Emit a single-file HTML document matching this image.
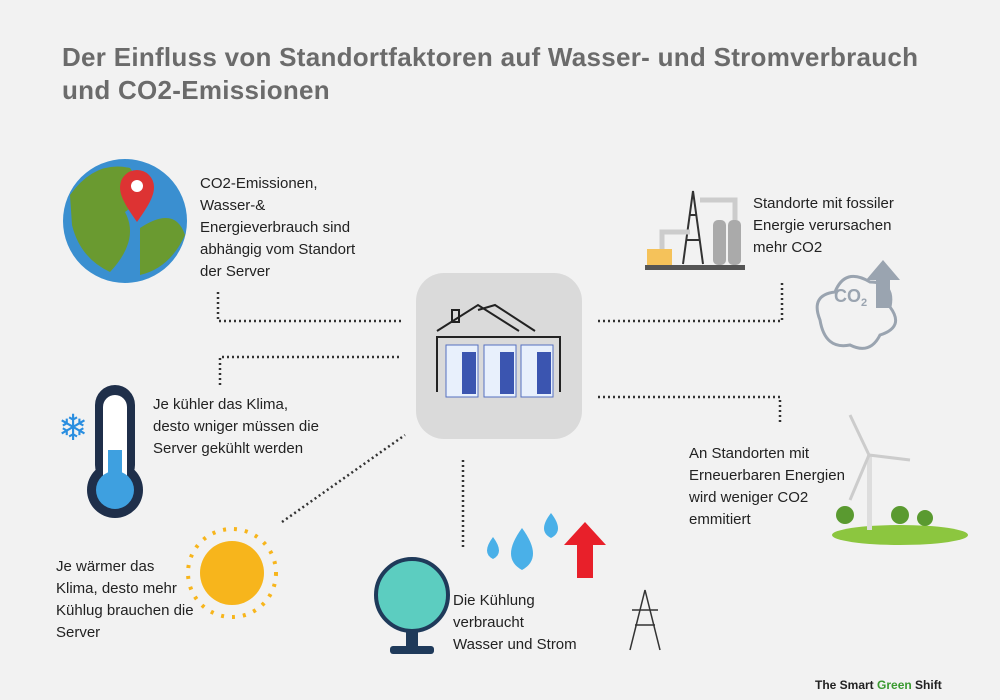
<!DOCTYPE html>
<html><head><meta charset="utf-8"><style>
body{margin:0;width:1000px;height:700px;background:#f2f2f2;overflow:hidden;font-family:"Liberation Sans",sans-serif;}
.t{position:absolute;font-size:15px;line-height:22px;color:#222;}
h1{position:absolute;left:62px;top:41px;margin:0;font-size:26px;line-height:33px;color:#6b6b6b;font-weight:bold;letter-spacing:0.28px;}
</style></head><body>
<h1>Der Einfluss von Standortfaktoren auf Wasser- und Stromverbrauch<br>und CO2-Emissionen</h1>
<svg width="1000" height="700" style="position:absolute;left:0;top:0">
<g stroke="#333" stroke-width="2.5" stroke-dasharray="2,3" fill="none">
<polyline points="218,292 218,321 402,321"/>
<polyline points="220,385 220,357 402,357"/>
<line x1="282" y1="522" x2="405" y2="435"/>
<line x1="463" y1="460" x2="463" y2="548"/>
<polyline points="598,321 782,321 782,283"/>
<polyline points="598,397 780,397 780,425"/>
</g>
<rect x="416" y="273" width="166" height="166" rx="28" fill="#dadada"/>
<g stroke="#222" stroke-width="2" fill="none">
<polyline points="437,331 478,305 519,331"/><polyline points="478,310 495,305 535,331"/>
<polyline points="437,392 437,337 560,337 560,392"/>
<rect x="452" y="310" width="7" height="12"/>
</g>
<g fill="#e8f0fc" stroke="#5570c0">
<rect x="446" y="345" width="32" height="52"/><rect x="484" y="345" width="32" height="52"/><rect x="521" y="345" width="32" height="52"/>
</g>
<g fill="#3b55b0"><rect x="462" y="352" width="14" height="42"/><rect x="500" y="352" width="14" height="42"/><rect x="537" y="352" width="14" height="42"/></g>
<!-- globe -->
<circle cx="125" cy="221" r="62" fill="#3a8fd0"/>
<path d="M70,195 Q95,160 130,168 Q150,195 125,212 Q140,240 110,272 Q80,258 72,225Z M140,228 Q175,205 185,235 Q170,268 140,275Z" fill="#6a9a30"/>
<path d="M137,222 C125,205 120,196 120,187 a17,17 0 0 1 34,0 C154,196 149,205 137,222Z" fill="#d33"/>
<circle cx="137" cy="186" r="6" fill="#fff"/>
<!-- thermometer -->
<rect x="95" y="385" width="40" height="100" rx="20" fill="#1f2f4a"/>
<circle cx="115" cy="490" r="28" fill="#1f2f4a"/>
<rect x="103" y="395" width="24" height="95" rx="12" fill="#fff"/>
<circle cx="115" cy="490" r="19" fill="#3ea0e0"/>
<rect x="108" y="450" width="14" height="40" fill="#3ea0e0"/>
<text x="58" y="440" font-size="36" fill="#2a8ee0">❄</text>
<!-- sun -->
<circle cx="232" cy="573" r="32" fill="#f7b51c"/>
<circle cx="232" cy="573" r="44" fill="none" stroke="#f7b51c" stroke-width="4" stroke-dasharray="3,8"/>
<!-- fan -->
<circle cx="412" cy="595" r="36" fill="#5ccdc0" stroke="#1f3a5a" stroke-width="4"/>
<rect x="406" y="630" width="12" height="20" fill="#1f3a5a"/><rect x="390" y="646" width="44" height="8" rx="3" fill="#1f3a5a"/>
<!-- drops -->
<path d="M522,528 q-22,30 0,42 q22,-12 0,-42Z" fill="#4ab0e8"/>
<path d="M493,537 q-12,16 0,22 q12,-6 0,-22Z M551,513 q-14,18 0,25 q14,-7 0,-25Z" fill="#4ab0e8"/>
<path d="M585,522 L606,545 L593,545 L593,578 L577,578 L577,545 L564,545Z" fill="#e8202a"/>
<!-- pylon -->
<path d="M630,650 L645,590 L660,650 M632,610 L658,610 M635,625 L655,625" stroke="#333" fill="none" stroke-width="1.5"/>
<!-- factory -->
<rect x="645" y="265" width="100" height="5" fill="#555"/>
<rect x="647" y="249" width="25" height="16" fill="#f5c25a"/>
<path d="M683,264 L693,191 L703,264 M686,240 L700,240 M689,215 L697,215" stroke="#333" fill="none" stroke-width="2"/>
<path d="M662,249 L662,232 L690,232 M700,200 L735,200 L735,220" stroke="#ccc" stroke-width="5" fill="none"/>
<rect x="713" y="220" width="13" height="45" rx="5" fill="#aaa"/><rect x="728" y="220" width="13" height="45" rx="5" fill="#aaa"/>
<!-- cloud -->
<path d="M820,320 q-10,-25 15,-28 q10,-25 35,-10 q25,0 20,25 q15,20 -10,28 q-10,20 -30,10 q-25,5 -30,-25Z" fill="none" stroke="#9aa4b0" stroke-width="3"/>
<text x="834" y="302" font-size="18" font-weight="bold" fill="#9aa4b0">CO<tspan font-size="11" dy="4">2</tspan></text>
<path d="M883,260 L900,280 L890,280 L890,308 L876,308 L876,280 L866,280Z" fill="#9aa4b0"/>
<!-- turbine -->
<ellipse cx="900" cy="535" rx="68" ry="10" fill="#8cc63f"/>
<rect x="867" y="455" width="5" height="75" fill="#ddd"/>
<path d="M869,455 L850,415 M869,455 L910,460 M869,455 L850,500" stroke="#ccc" stroke-width="3"/>
<circle cx="845" cy="515" r="9" fill="#5a9a30"/><circle cx="900" cy="515" r="9" fill="#5a9a30"/><circle cx="925" cy="518" r="8" fill="#5a9a30"/>
</svg>
<div class="t" style="left:200px;top:173px">CO2-Emissionen,<br>Wasser-&amp;<br>Energieverbrauch sind<br>abhängig vom Standort<br>der Server</div>
<div class="t" style="left:753px;top:193px">Standorte mit fossiler<br>Energie verursachen<br>mehr CO2</div>
<div class="t" style="left:153px;top:394px">Je kühler das Klima,<br>desto wniger müssen die<br>Server gekühlt werden</div>
<div class="t" style="left:689px;top:443px">An Standorten mit<br>Erneuerbaren Energien<br>wird weniger CO2<br>emmitiert</div>
<div class="t" style="left:56px;top:556px">Je wärmer das<br>Klima, desto mehr<br>Kühlug brauchen die<br>Server</div>
<div class="t" style="left:453px;top:590px">Die Kühlung<br>verbraucht<br>Wasser und Strom</div>
<div style="position:absolute;left:815px;top:678px;font-size:12px;font-weight:bold;color:#222">The Smart <span style="color:#3a9a30">Green</span> Shift</div>
</body></html>
